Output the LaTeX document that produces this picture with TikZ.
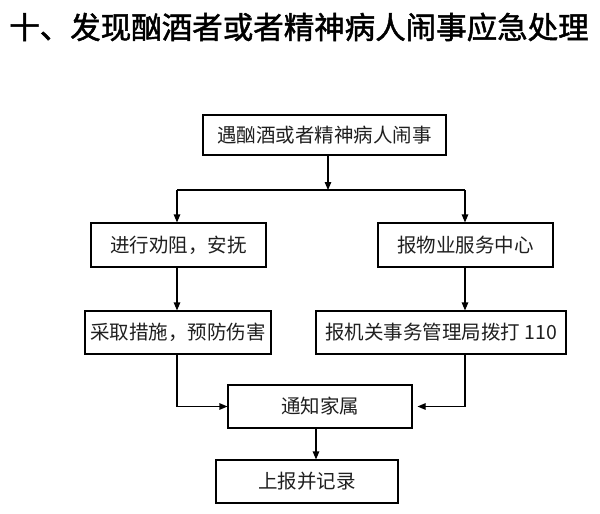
\documentclass[tikz,border=0pt]{standalone}
\usepackage{fontspec}
\newfontfamily\cjk{Noto Sans CJK SC}
\newfontfamily\cjktitle[FakeBold=1.6]{Noto Sans CJK SC}
\usetikzlibrary{arrows.meta}
\begin{document}
\begin{tikzpicture}[x=1pt,y=-1pt,
  box/.style={draw=black,line width=1.1pt,rectangle,inner sep=0pt,
    font=\cjk\fontsize{19.5}{22}\selectfont,text=black!88},
  arr/.style={line width=1.1pt,-{Triangle[length=8pt,width=6.5pt]}},
  ln/.style={line width=1.1pt}]
\useasboundingbox (0,0) rectangle (600,514);
\fill[white] (0,0) rectangle (600,514);
\node[font=\cjktitle\fontsize{30.5}{34}\selectfont] (title) at (299,27) {十、发现酗酒者或者精神病人闹事应急处理};
\node[box,minimum width=243pt,minimum height=40pt] (top) at (324.5,135) {遇酗酒或者精神病人闹事};
\node[box,minimum width=175pt,minimum height=44pt] (l2) at (178.5,245) {进行劝阻，安抚};
\node[box,minimum width=175pt,minimum height=44pt] (r2) at (465.5,245) {报物业服务中心};
\node[box,minimum width=186pt,minimum height=43pt] (l3) at (178,332.5) {采取措施，预防伤害};
\node[box,minimum width=250pt,minimum height=43pt] (r3) at (441,332.5) {报机关事务管理局拨打 110};
\node[box,minimum width=184pt,minimum height=43pt] (nt) at (320,406.5) {通知家属};
\node[box,minimum width=182pt,minimum height=43pt] (ls) at (307,481.5) {上报并记录};
\coordinate (bl) at (177,190);
\coordinate (br) at (465,190);
\draw[ln] (bl) -- (br);
\draw[arr] ([xshift=3.5pt]top.south) -- ([xshift=3.5pt]top.south |- bl);
\draw[arr] (bl) -- (bl |- l2.north);
\draw[arr] (br) -- (br |- r2.north);
\draw[arr] (l2.south -| bl) -- (l3.north -| bl);
\draw[arr] (r2.south -| br) -- (r3.north -| br);
\draw[arr] (l3.south -| bl) |- (nt.west);
\draw[arr,shorten >=5pt] (r3.south -| br) |- (nt.east);
\draw[arr] ([xshift=-4pt]nt.south) -- ([xshift=-4pt]nt.south |- ls.north);
\end{tikzpicture}
\end{document}
